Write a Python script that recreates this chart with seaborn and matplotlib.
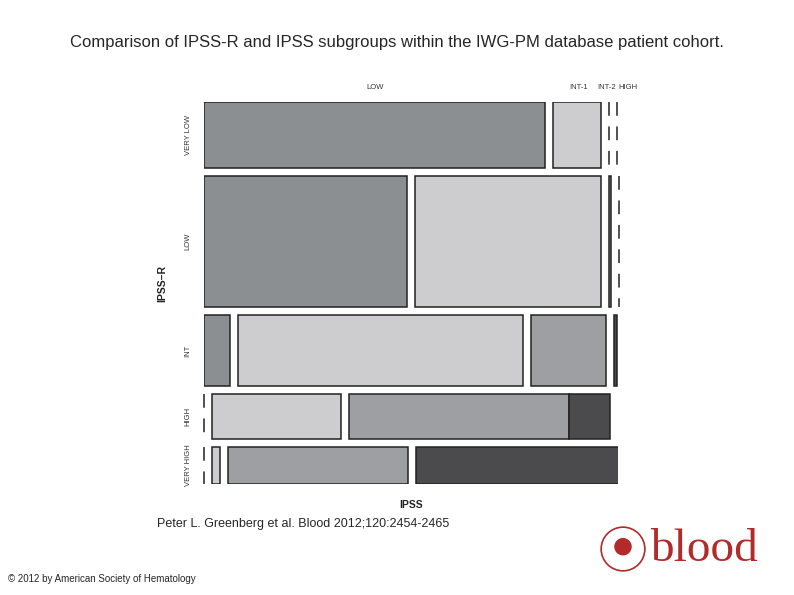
import numpy as np
import matplotlib.pyplot as plt
import seaborn as sns
from matplotlib.patches import Rectangle, Circle

# IPSS-R rows (top to bottom) and IPSS columns
rows = ['VERY LOW', 'LOW', 'INT', 'HIGH', 'VERY HIGH']
cols = ['LOW', 'INT-1', 'INT-2', 'HIGH']
row_sizes = [66, 131, 71, 45, 37]
cells = {
    'VERY LOW':  [341, 48, 0, 0],
    'LOW':       [203, 186, 1.5, 0],
    'INT':       [26, 285, 75, 3],
    'HIGH':      [0, 129, 220, 41],
    'VERY HIGH': [0, 8, 180, 203],
}
col_colors = ['#8c8f92', '#cdcdcf', '#9e9fa2', '#4b4b4d']
top_label_x = [171, 375, 403, 424]  # label positions along the top row

sns.set_style('white')
plt.rcParams['font.family'] = ['Liberation Sans', 'DejaVu Sans']

fig = plt.figure(figsize=(7.94, 5.95), dpi=100)
W, H = 794, 595
gap = 8
x0, y0 = 204, 102
ax = fig.add_axes([x0 / W, 1 - 484 / H, 414 / W, 382 / H])
ax.set_xlim(0, 414)
ax.set_ylim(382, 0)
ax.axis('off')

y = 0
for r, h in zip(rows, row_sizes):
    x = 0
    for c, w in enumerate(cells[r]):
        if w == 0:
            ax.plot([x, x], [y, y + h], color='#222222', lw=1.1,
                    ls=(0, (9, 7)), clip_on=False)
        else:
            ax.add_patch(Rectangle((x, y), w, h, facecolor=col_colors[c],
                                   edgecolor='#222222', lw=1.1))
        x += w
        # the HIGH row's INT-2 and HIGH boxes touch in the original
        if not (r == 'HIGH' and c == 2):
            x += gap
    ax.text(-16, y + h / 2, r, rotation=90, ha='center', va='center',
            fontsize=5.5, color='#333333')
    y += h + gap

for lab, lx in zip(cols, top_label_x):
    ax.text(lx, -14, lab, ha='center', va='center', fontsize=5.5, color='#333333')

ax.text(-42, 181, 'IPSS\u2013R', rotation=90, ha='center', va='center',
        fontsize=7.5, fontweight='bold', color='#222222')
ax.text(207, 403, 'IPSS', ha='center', va='center', fontsize=7.5,
        fontweight='bold', color='#222222')

fig.text(397 / W, 1 - 42 / H,
         'Comparison of IPSS-R and IPSS subgroups within the IWG-PM database patient cohort.',
         ha='center', va='center', fontsize=12)
fig.text(157 / W, 1 - 524 / H, 'Peter L. Greenberg et al. Blood 2012;120:2454-2465',
         ha='left', va='center', fontsize=9)
fig.text(8 / W, 1 - 579 / H, '\u00a9 2012 by American Society of Hematology',
         ha='left', va='center', fontsize=7)

# journal logo
fig.text(650 / W, 1 - 550 / H, 'blood', ha='left', va='center', fontsize=34,
         family='Liberation Serif', color='#b22a2a')
lax = fig.add_axes([600 / W, 1 - 572 / H, 46 / W, 46 / H])
lax.set_xlim(-1, 1)
lax.set_ylim(-1, 1)
lax.set_aspect('equal')
lax.axis('off')
lax.add_patch(Circle((0, 0), 0.95, fill=False, ec='#b22a2a', lw=1.2))
lax.add_patch(Circle((0, 0.1), 0.35, color='#b22a2a'))

fig.savefig('out.png', dpi=100)
